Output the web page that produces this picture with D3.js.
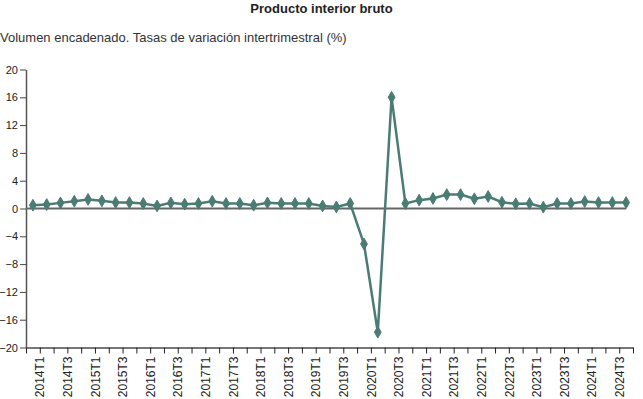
<!DOCTYPE html>
<html>
<head>
<meta charset="utf-8">
<script src="https://cdn.jsdelivr.net/npm/d3@7"></script>
<style>
  body { margin: 0; background: #fff; }
  svg { font-family: "Liberation Sans", Arial, sans-serif; }
</style>
</head>
<body>
<svg id="chart" width="643" height="399"></svg>
<script>
// quarters 2014T1 .. 2024T4
var years = [2014, 2015, 2016, 2017, 2018, 2019, 2020, 2021, 2022, 2023, 2024];
var quarters = [];
years.forEach(function(y){ for (var t = 1; t <= 4; t++) quarters.push(y + "T" + t); });

var values = [
  0.47, 0.57, 0.81, 1.05,
  1.3, 1.1, 0.86, 0.86,
  0.72, 0.37, 0.81, 0.62,
  0.72, 1.05, 0.72, 0.72,
  0.47, 0.81, 0.72, 0.72,
  0.72, 0.37, 0.23, 0.72,
  -5.1, -17.8, 16.0, 0.72,
  1.2, 1.45, 2.0, 2.0,
  1.4, 1.73, 0.9, 0.68,
  0.72, 0.2, 0.72, 0.72,
  1.0, 0.86, 0.86, 0.86
];

var yTicks = [-20, -16, -12, -8, -4, 0, 4, 8, 12, 16, 20];

var title = "Producto interior bruto";
var subtitle = "Volumen encadenado. Tasas de variación intertrimestral (%)";

var lineColor = "#4a7c74";
var axisColor = "#666";

var svg = d3.select("#chart");
var margins = {"left": 26, "top": 69.5, "right": 10, "bottom": 51.5};
var W = 643, H = 399;

svg.append("text")
  .attr("x", W / 2)
  .attr("y", 13)
  .attr("text-anchor", "middle")
  .attr("font-weight", "bold")
  .attr("font-size", "13px")
  .attr("fill", "#222")
  .text(title);

svg.append("text")
  .attr("x", 0)
  .attr("y", 42)
  .attr("font-size", "13px")
  .attr("fill", "#333")
  .text(subtitle);

var x = d3.scaleBand()
  .domain(quarters)
  .range([margins.left, W - margins.right])
  .padding(0);

// axis ticks sit on band edges, label at the right edge of its quarter
var xEdge = d3.scaleLinear()
  .domain([0, quarters.length])
  .range([margins.left, W - margins.right]);

var y = d3.scaleLinear()
  .domain([-20, 20])
  .range([H - margins.bottom, margins.top]);

var xAxis = d3.axisBottom(xEdge)
  .tickValues(d3.range(0, quarters.length + 1))
  .tickSize(6)
  .tickSizeOuter(0)
  .tickFormat(function(i){
    var q = i - 1;
    if (q < 0 || q % 2 != 0) return "";
    return quarters[q];
  });

var gx = svg.append("g")
  .attr("transform", "translate(0," + y(-20) + ")")
  .call(xAxis);

gx.select(".domain").attr("stroke", "#777").attr("stroke-width", 2);
gx.selectAll(".tick line").attr("stroke", "#222");
gx.selectAll(".tick text")
  .attr("font-family", "Liberation Sans, Arial, sans-serif")
  .attr("font-size", "12px")
  .attr("fill", "#222")
  .attr("text-anchor", "end")
  .attr("transform", "rotate(-90)")
  .attr("x", -9)
  .attr("y", 0)
  .attr("dy", "0.35em");

var yAxis = d3.axisLeft(y)
  .tickValues(yTicks)
  .tickSize(6)
  .tickSizeOuter(0);

var gy = svg.append("g")
  .attr("transform", "translate(" + margins.left + ",0)")
  .call(yAxis);

gy.select(".domain").attr("stroke", "#555").attr("stroke-width", 1.5);
gy.selectAll(".tick line").attr("stroke", "#444");
gy.selectAll(".tick text")
  .attr("font-family", "Liberation Sans, Arial, sans-serif")
  .attr("font-size", "11px")
  .attr("fill", "#222")
  .attr("x", -8);

// zero line
svg.append("line")
  .attr("x1", margins.left)
  .attr("x2", x(quarters[quarters.length - 1]) + x.bandwidth() / 2)
  .attr("y1", y(0))
  .attr("y2", y(0))
  .attr("stroke", axisColor)
  .attr("stroke-width", 2);

var data = quarters.map(function(q, i){ return {"q": q, "v": values[i]}; });

var line = d3.line()
  .x(function(d){ return x(d.q) + x.bandwidth() / 2; })
  .y(function(d){ return y(d.v); });

svg.append("path")
  .datum(data)
  .attr("d", line)
  .attr("fill", "none")
  .attr("stroke", lineColor)
  .attr("stroke-width", 2.5);

svg.selectAll(".pt")
  .data(data)
  .enter()
  .append("path")
  .attr("class", "pt")
  .attr("d", d3.symbol().type(d3.symbolDiamond).size(40))
  .attr("transform", function(d){ return "translate(" + (x(d.q) + x.bandwidth() / 2) + "," + y(d.v) + ")"; })
  .attr("fill", lineColor)
  .attr("stroke", lineColor)
  .attr("stroke-width", 1);
</script>
</body>
</html>
